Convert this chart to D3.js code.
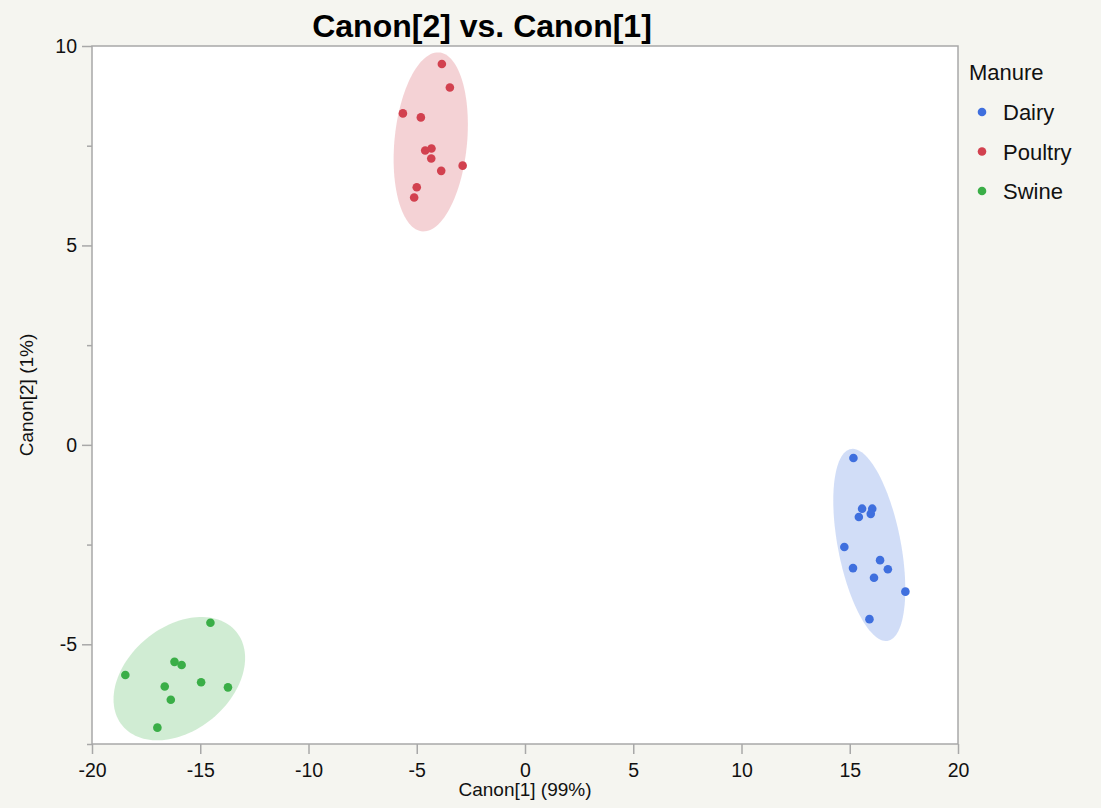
<!DOCTYPE html>
<html>
<head>
<meta charset="utf-8">
<script src="https://cdn.jsdelivr.net/npm/d3@7"></script>
<style>
  html, body { margin: 0; padding: 0; background: #f5f5f0; }
  svg { display: block; font-family: "Liberation Sans", Arial, Helvetica, sans-serif; }
</style>
</head>
<body>
<svg id="chart" width="1101" height="808"></svg>
<script>
// Canonical scores per manure group
const groups = ["Dairy", "Poultry", "Swine"];
const groupColors = ["#3f6fde", "#d2414f", "#3aae47"];

const dairyCanon1 = [15.17, 15.57, 16.04, 15.42, 15.97, 14.75, 16.40, 15.15, 16.76, 16.12, 17.57, 15.91];
const dairyCanon2 = [-0.33, -1.60, -1.60, -1.81, -1.73, -2.56, -2.89, -3.09, -3.12, -3.33, -3.68, -4.37];

const poultryCanon1 = [-3.84, -3.47, -5.64, -4.81, -4.61, -4.32, -4.33, -3.87, -2.88, -5.00, -5.12];
const poultryCanon2 = [9.55, 8.96, 8.31, 8.21, 7.38, 7.43, 7.18, 6.87, 7.00, 6.46, 6.20];

const swineCanon1 = [-14.53, -18.46, -16.19, -15.86, -16.64, -14.96, -13.72, -16.36, -16.98];
const swineCanon2 = [-4.46, -5.77, -5.44, -5.52, -6.06, -5.95, -6.08, -6.39, -7.09];

const xTicks = [-20, -15, -10, -5, 0, 5, 10, 15, 20];
const yTicks = [-5, 0, 5, 10];
const yMinorTicks = [-7.5, -2.5, 2.5, 7.5];

const series = [
  { name: groups[0], color: groupColors[0], xs: dairyCanon1, ys: dairyCanon2 },
  { name: groups[1], color: groupColors[1], xs: poultryCanon1, ys: poultryCanon2 },
  { name: groups[2], color: groupColors[2], xs: swineCanon1, ys: swineCanon2 }
];

const svg = d3.select("#chart");
const plot = { left: 92, right: 958, top: 46, bottom: 744 };

const x = d3.scaleLinear().domain([-20, 20]).range([plot.left, plot.right]);
const y = d3.scaleLinear().domain([-7.5, 10]).range([plot.bottom, plot.top]);

// tick labels use a plain hyphen-minus
const plainNumber = d => String(d);

// page background
svg.append("rect").attr("width", 1101).attr("height", 808).attr("fill", "#f5f5f0");

// plot area
svg.append("rect")
  .attr("x", plot.left).attr("y", plot.top)
  .attr("width", plot.right - plot.left).attr("height", plot.bottom - plot.top)
  .attr("fill", "#ffffff");

// 90% normal density ellipse per group (chi-square, 2 df)
const chi2 = -2 * Math.log(0.10);
function densityEllipse(xs, ys) {
  const n = xs.length;
  const mx = d3.mean(xs), my = d3.mean(ys);
  let sxx = 0, syy = 0, sxy = 0;
  for (let i = 0; i < n; i++) {
    const dx = xs[i] - mx, dy = ys[i] - my;
    sxx += dx * dx; syy += dy * dy; sxy += dx * dy;
  }
  sxx = sxx / (n - 1) * chi2; syy = syy / (n - 1) * chi2; sxy = sxy / (n - 1) * chi2;
  // Cholesky factor of the scaled covariance
  const l11 = Math.sqrt(sxx);
  const l21 = sxy / l11;
  const l22 = Math.sqrt(syy - l21 * l21);
  return d3.range(0, 361, 3).map(deg => {
    const t = deg * Math.PI / 180;
    const c = Math.cos(t), s = Math.sin(t);
    return [mx + l11 * c, my + l21 * c + l22 * s];
  });
}

const line = d3.line().x(d => x(d[0])).y(d => y(d[1])).curve(d3.curveLinearClosed);

const plotG = svg.append("g");
series.forEach(s => {
  plotG.append("path")
    .attr("d", line(densityEllipse(s.xs, s.ys)))
    .attr("fill", s.color)
    .attr("fill-opacity", 0.24)
    .attr("stroke", "none");
});

series.forEach(s => {
  plotG.selectAll(null)
    .data(s.xs.map((v, i) => [v, s.ys[i]]))
    .enter().append("circle")
    .attr("cx", d => x(d[0]))
    .attr("cy", d => y(d[1]))
    .attr("r", 4.3)
    .attr("fill", s.color);
});

// frame
svg.append("rect")
  .attr("x", plot.left).attr("y", plot.top)
  .attr("width", plot.right - plot.left).attr("height", plot.bottom - plot.top)
  .attr("fill", "none").attr("stroke", "#a8a8a8").attr("stroke-width", 1.5);

const tickColor = "#a8a8a8";

// x axis
const xAxis = svg.append("g")
  .attr("transform", `translate(0,${plot.bottom})`)
  .call(d3.axisBottom(x).tickValues(xTicks).tickSize(10).tickPadding(9).tickFormat(plainNumber));
xAxis.select(".domain").remove();
xAxis.selectAll("line").attr("stroke", tickColor).attr("stroke-width", 1.5);
xAxis.selectAll("text").attr("fill", "#111").style("font-size", "19.5px")
  .style("font-family", "'Liberation Sans', Arial, sans-serif");

// y axis major
const yAxis = svg.append("g")
  .attr("transform", `translate(${plot.left},0)`)
  .call(d3.axisLeft(y).tickValues(yTicks).tickSize(10).tickPadding(5).tickFormat(plainNumber));
yAxis.select(".domain").remove();
yAxis.selectAll("line").attr("stroke", tickColor).attr("stroke-width", 1.5);
yAxis.selectAll("text").attr("fill", "#111").style("font-size", "19.5px")
  .style("font-family", "'Liberation Sans', Arial, sans-serif");

// y axis minor
const yMinor = svg.append("g")
  .attr("transform", `translate(${plot.left},0)`)
  .call(d3.axisLeft(y).tickValues(yMinorTicks).tickSize(5).tickFormat(""));
yMinor.select(".domain").remove();
yMinor.selectAll("line").attr("stroke", tickColor).attr("stroke-width", 1.5);

// title
svg.append("text")
  .attr("x", 482).attr("y", 37)
  .attr("text-anchor", "middle")
  .style("font-size", "32px").style("font-weight", "bold").attr("fill", "#000")
  .text("Canon[2] vs. Canon[1]");

// axis titles
svg.append("text")
  .attr("x", (plot.left + plot.right) / 2).attr("y", 796)
  .attr("text-anchor", "middle")
  .style("font-size", "19px").attr("fill", "#111")
  .text("Canon[1] (99%)");

svg.append("text")
  .attr("transform", `translate(33,${(plot.top + plot.bottom) / 2}) rotate(-90)`)
  .attr("text-anchor", "middle")
  .style("font-size", "19px").attr("fill", "#111")
  .text("Canon[2] (1%)");

// legend
const legend = svg.append("g");
legend.append("text")
  .attr("x", 969).attr("y", 80)
  .style("font-size", "22px").attr("fill", "#111")
  .text("Manure");
const item = legend.selectAll("g.item")
  .data(series)
  .enter().append("g").attr("class", "item")
  .attr("transform", (d, i) => `translate(0,${120 + i * 39.5})`);
item.append("circle").attr("cx", 982).attr("cy", -8).attr("r", 4.3).attr("fill", d => d.color);
item.append("text").attr("x", 1003).attr("y", 0)
  .style("font-size", "22px").attr("fill", "#111")
  .text(d => d.name);
</script>
</body>
</html>
